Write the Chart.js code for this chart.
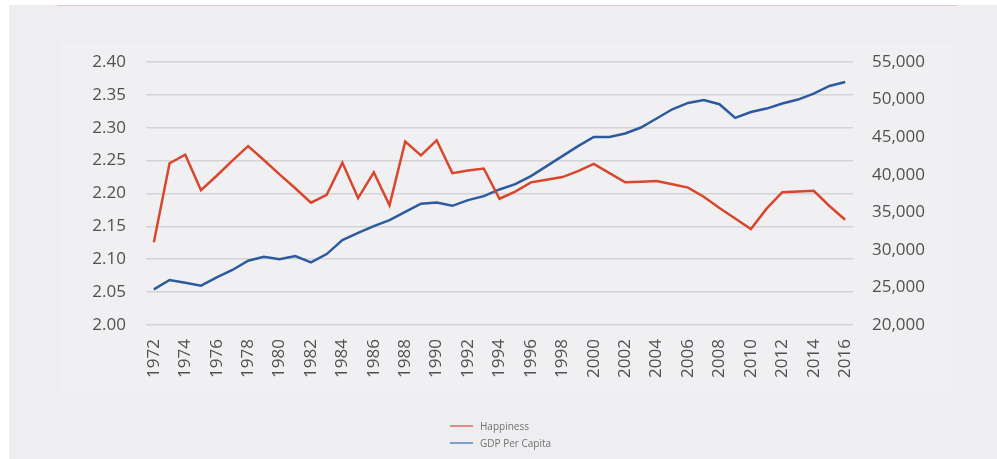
<!DOCTYPE html>
<html>
<head>
<meta charset="utf-8">
<script src="https://cdn.jsdelivr.net/npm/chart.js@4.4.0/dist/chart.umd.min.js"></script>
<style>
    html, body { margin: 0; padding: 0; background: #ffffff; }
    #wrap { position: relative; width: 997px; height: 459px; overflow: hidden; }
    #bg { position: absolute; left: 9px; top: 5px; right: 0; bottom: 0; background: #eeeef1; }
    #panel { position: absolute; left: 60px; top: 42px; width: 893px; height: 351px; background: #f0f0f2; }
    #topline { position: absolute; left: 57px; top: 5px; width: 900px; height: 1px; background: #e6c3cc; }
    #chart { position: absolute; left: 0; top: 0; }
    #legend { position: absolute; left: 450px; top: 417px; font-family: "Open Sans", sans-serif; font-size: 10px; color: #707070; }
    #legend .item { display: flex; align-items: center; height: 17px; }
    #legend .swatch { width: 23px; height: 2px; margin-right: 7px; }
</style>
</head>
<body>
<div id="wrap">
    <div id="bg"></div>
    <div id="panel"></div>
    <div id="topline"></div>
    <canvas id="chart" width="997" height="459"></canvas>
    <div id="legend"></div>
</div>
<script>
const years = [
    '1972', '1973', '1974', '1975', '1976', '1977', '1978', '1979', '1980', '1981',
    '1982', '1983', '1984', '1985', '1986', '1987', '1988', '1989', '1990', '1991',
    '1992', '1993', '1994', '1995', '1996', '1997', '1998', '1999', '2000', '2001',
    '2002', '2003', '2004', '2005', '2006', '2007', '2008', '2009', '2010', '2011',
    '2012', '2013', '2014', '2015', '2016'
];

const happiness = [
    2.126, 2.246, 2.259, 2.205, 2.227, 2.250, 2.272, 2.251, 2.229, 2.208,
    2.186, 2.198, 2.247, 2.193, 2.232, 2.182, 2.279, 2.258, 2.281, 2.231,
    2.235, 2.238, 2.192, 2.203, 2.217, 2.221, 2.225, 2.234, 2.245, 2.231,
    2.217, 2.218, 2.219, 2.214, 2.209, 2.195, 2.178, 2.162, 2.146, 2.177,
    2.202, 2.203, 2.204, 2.181, 2.160
];

const gdpPerCapita = [
    24750, 25990, 25630, 25230, 26350, 27320, 28550, 29085, 28740, 29180,
    28340, 29440, 31300, 32270, 33165, 33960, 35065, 36150, 36310, 35860,
    36620, 37150, 38040, 38750, 39810, 41140, 42470, 43800, 45030, 45030,
    45480, 46280, 47480, 48710, 49550, 49950, 49380, 47560, 48350, 48800,
    49470, 50000, 50800, 51810, 52340
];

const leftTicks = { min: 2.0, max: 2.4, step: 0.05 };
const rightTicks = { min: 20000, max: 55000, step: 5000 };

const tickFont = { family: '"Open Sans", sans-serif', size: 17 };
const tickColor = '#505050';

const ctx = document.getElementById('chart').getContext('2d');

const chart = new Chart(ctx, {
    type: 'line',
    data: {
        labels: years,
        datasets: [
            {
                label: 'Happiness',
                data: happiness,
                yAxisID: 'y',
                borderColor: '#d9462c',
                legendColor: '#e58a86',
                borderWidth: 2.5,
                pointRadius: 0,
                tension: 0
            },
            {
                label: 'GDP Per Capita',
                data: gdpPerCapita,
                yAxisID: 'y1',
                borderColor: '#2d5a9e',
                legendColor: '#7e9fd0',
                borderWidth: 2.5,
                pointRadius: 0,
                tension: 0
            }
        ]
    },
    options: {
        responsive: false,
        animation: false,
        layout: { padding: { top: 62, bottom: 0, left: 0, right: 0 } },
        plugins: {
            legend: { display: false },
            tooltip: { enabled: false }
        },
        scales: {
            x: {
                offset: true,
                grid: { display: false, drawTicks: false },
                border: { display: false },
                ticks: {
                    autoSkip: false,
                    minRotation: 90,
                    maxRotation: 90,
                    padding: 14,
                    font: tickFont,
                    color: tickColor,
                    callback: function(value, index) {
                        return index % 2 === 0 ? years[index] : '';
                    }
                },
                afterFit: function(scale) { scale.height = 134; }
            },
            y: {
                position: 'left',
                min: leftTicks.min,
                max: leftTicks.max,
                grid: { color: '#d4d4d6', lineWidth: 1.5, drawTicks: false },
                border: { display: false },
                ticks: {
                    stepSize: leftTicks.step,
                    padding: 20,
                    font: tickFont,
                    color: tickColor,
                    callback: v => v.toFixed(2)
                },
                afterFit: function(scale) { scale.width = 146; }
            },
            y1: {
                position: 'right',
                min: rightTicks.min,
                max: rightTicks.max,
                grid: { display: false, drawTicks: false },
                border: { display: false },
                ticks: {
                    stepSize: rightTicks.step,
                    padding: 19,
                    font: tickFont,
                    color: tickColor,
                    callback: v => v.toLocaleString('en-US')
                },
                afterFit: function(scale) { scale.width = 144; }
            }
        }
    }
});

const legendEl = document.getElementById('legend');
legendEl.innerHTML = chart.data.datasets.map(ds => `
    <div class="item">
        <span class="swatch" style="background:${ds.legendColor}"></span>
        <span>${ds.label}</span>
    </div>
`).join('');
</script>
</body>
</html>
